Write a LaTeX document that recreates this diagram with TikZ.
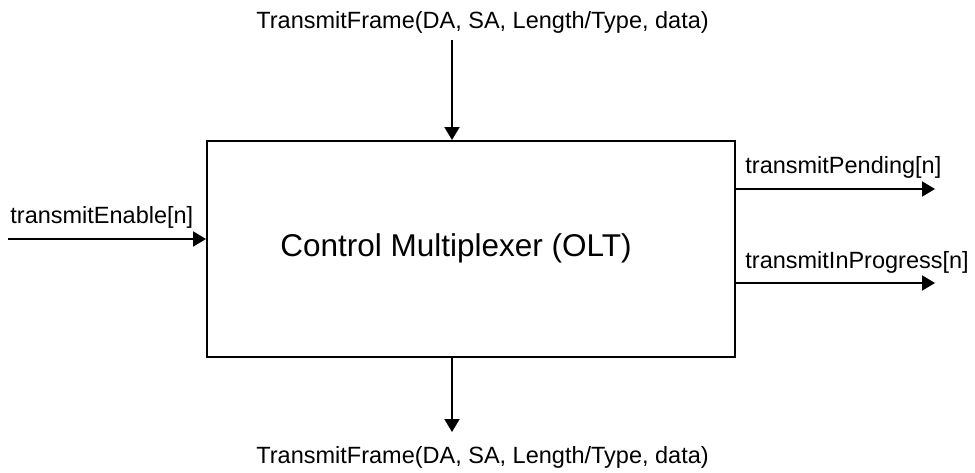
\documentclass[tikz,border=0pt]{standalone}
\usepackage{fontspec}
\setmainfont{Liberation Sans}
\usetikzlibrary{arrows.meta}

\begin{document}
\begin{tikzpicture}[x=0.5pt, y=-0.5pt,
  sig/.style = {-{Triangle[length=6.5pt,width=7.5pt]}, line width=1pt},
  lbl/.style = {inner sep=0, anchor=base west, font=\fontsize{11.75}{14}\selectfont}]
\useasboundingbox (0,0) rectangle (975,472);
\node[draw, line width=1pt, minimum width=264pt, minimum height=108pt, inner sep=0] (mux) at (471,249) {};
\node[inner sep=0, anchor=base west, font=\fontsize{15.75}{18}\selectfont] (muxname) at (280,256) {Control Multiplexer (OLT)};
\node[lbl] (txin) at (256,28) {TransmitFrame(DA, SA, Length/Type, data)};
\node[lbl] (txout) at (256,463) {TransmitFrame(DA, SA, Length/Type, data)};
\node[lbl] (enable) at (10,223) {transmitEnable[n]};
\node[lbl] (pending) at (745,173) {transmitPending[n]};
\node[lbl] (inprog) at (745,268) {transmitInProgress[n]};
\coordinate (txinend) at (452,40);
\coordinate (txoutend) at (452,432);
\coordinate (enableend) at (8,239);
\coordinate (pendingend) at (935,189);
\coordinate (inprogend) at (935,283);
\draw[sig] (txinend) -- (txinend |- mux.north);
\draw[sig] (mux.south -| txoutend) -- (txoutend);
\draw[sig] (enableend) -- (enableend -| mux.west);
\draw[sig] (pendingend -| mux.east) -- (pendingend);
\draw[sig] (inprogend -| mux.east) -- (inprogend);
\end{tikzpicture}
\end{document}
